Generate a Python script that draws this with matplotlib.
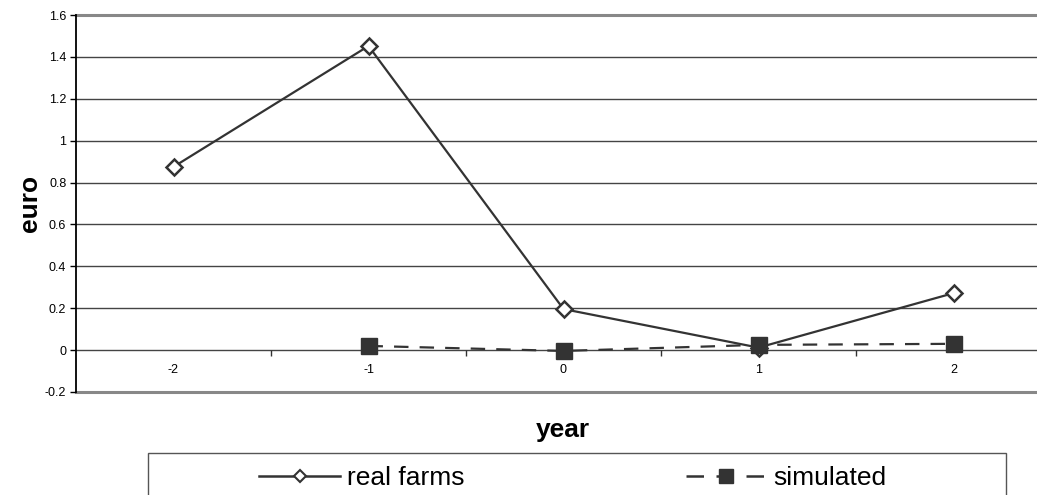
import matplotlib
matplotlib.use("Agg")
import matplotlib.pyplot as plt
from matplotlib.patches import Rectangle
from matplotlib.lines import Line2D

plt.rcParams['font.family'] = ['Liberation Sans', 'DejaVu Sans']

years = [-2, -1, 0, 1, 2]
year_labels = ['-2', '-1', '0', '1', '2']
real_farms = [0.875, 1.452, 0.196, 0.012, 0.272]
sim_years = [-1, 0, 1, 2]
simulated = [0.02, -0.004, 0.025, 0.03]
y_ticks = [-0.2, 0, 0.2, 0.4, 0.6, 0.8, 1, 1.2, 1.4, 1.6]
y_tick_labels = ['-0.2', '0', '0.2', '0.4', '0.6', '0.8', '1', '1.2', '1.4', '1.6']

W, H = 1037, 495
fig = plt.figure(figsize=(W / 100, H / 100), dpi=100)
# plot area in pixel coordinates (extends past the right edge)
left, right, top, bottom = 76, 1051, 15, 392
ax = fig.add_axes([left / W, 1 - bottom / H, (right - left) / W, (bottom - top) / H])

ax.set_xlim(-2.5, 2.5)
ax.set_ylim(-0.2, 1.6)

dark = '#333333'
for y in y_ticks[1:-1]:
    ax.axhline(y, color='#444444', lw=1.0, zorder=1)
ax.axhline(1.6, color='#888888', lw=2.2, zorder=1, clip_on=False)
ax.axhline(-0.2, color='#888888', lw=2.2, zorder=1, clip_on=False)

ax.plot(years, real_farms, color=dark, lw=1.6, marker='D', markersize=8,
        markerfacecolor='white', markeredgecolor=dark, markeredgewidth=1.8,
        zorder=3)
ax.plot(sim_years, simulated, color=dark, lw=1.6, dashes=(6.5, 5), marker='s',
        markersize=11, markerfacecolor=dark, markeredgecolor=dark,
        zorder=4)

for s in ['top', 'right']:
    ax.spines[s].set_visible(False)
ax.spines['left'].set_color('black')
ax.spines['left'].set_linewidth(1.3)
ax.spines['bottom'].set_position(('data', 0))
ax.spines['bottom'].set_visible(False)

ax.set_yticks(y_ticks)
ax.set_yticklabels(y_tick_labels, fontsize=9)
ax.tick_params(axis='y', length=4, width=1, direction='out', pad=3)

ax.set_xticks(years)
ax.set_xticklabels(year_labels, fontsize=9)
ax.set_xticks([-1.5, -0.5, 0.5, 1.5], minor=True)
ax.tick_params(axis='x', which='major', length=0, pad=10)
ax.tick_params(axis='x', which='minor', length=4, width=1, direction='out', color=dark)

fig.text(30 / W, 1 - 203 / H, 'euro', rotation=90, fontsize=19, fontweight='bold',
         ha='center', va='center')
fig.text(563 / W, 1 - 430 / H, 'year', fontsize=19, fontweight='bold',
         ha='center', va='center')

# legend frame and entries
fig.patches.append(Rectangle((148 / W, 1 - 520 / H), (1006 - 148) / W, (520 - 453) / H,
                             transform=fig.transFigure, fill=False,
                             edgecolor='#555555', lw=1.0))
handles = [
    Line2D([], [], color=dark, lw=1.8, marker='D', markersize=6,
           markerfacecolor='white', markeredgecolor=dark, markeredgewidth=1.5),
    Line2D([], [], color=dark, lw=1.8, dashes=(7, 5), marker='s', markersize=10,
           markerfacecolor=dark, markeredgecolor=dark),
]
fig.legend(handles, ['real farms', 'simulated'], loc='center left',
           bbox_to_anchor=(259 / W, 1 - 478 / H),
           ncol=2, frameon=False, fontsize=19, handlelength=3.07, handletextpad=0.25,
           columnspacing=8.4, borderpad=0, borderaxespad=0)

fig.savefig('out.png', dpi=100)
